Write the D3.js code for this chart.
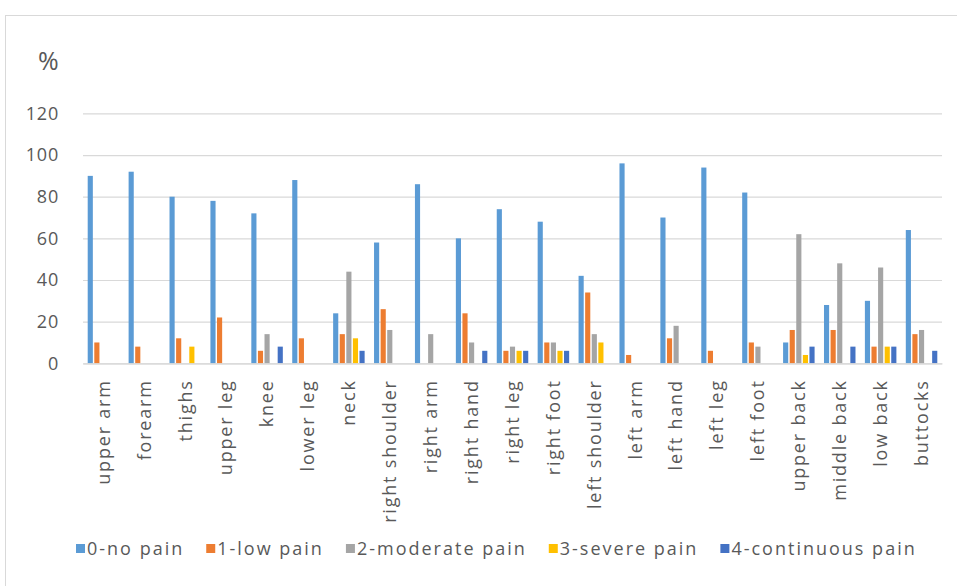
<!DOCTYPE html>
<html><head><meta charset="utf-8">
<script src="https://cdn.jsdelivr.net/npm/d3@7"></script>
<style>
html,body{margin:0;padding:0;background:#fff;}
svg{display:block;font-family:"Open Sans",sans-serif;}
</style></head>
<body><svg id="chart" width="957" height="586"></svg>
<script>
const categories = ["upper arm","forearm","thighs","upper leg","knee","lower leg","neck","right shoulder","right arm","right hand","right leg","right foot","left shoulder","left arm","left hand","left leg","left foot","upper back","middle back","low back","buttocks"];
const seriesNames = ["0-no pain","1-low pain","2-moderate pain","3-severe pain","4-continuous pain"];
const noPain     = [90,92,80,78,72,88,24,58,86,60,74,68,42,96,70,94,82,10,28,30,64];
const lowPain    = [10,8,12,22,6,12,14,26,0,24,6,10,34,4,12,6,10,16,16,8,14];
const moderate   = [0,0,0,0,14,0,44,16,14,10,8,10,14,0,18,0,8,62,48,46,16];
const severe     = [0,0,8,0,0,0,12,0,0,0,6,6,10,0,0,0,0,4,0,8,0];
const continuous = [0,0,0,0,8,0,6,0,0,6,6,6,0,0,0,0,0,8,8,8,6];
const yTicks = [0,20,40,60,80,100,120];
const colors = ["#5B9BD5","#ED7D31","#A5A5A5","#FFC000","#4472C4"];

const seriesValues = [noPain, lowPain, moderate, severe, continuous];
const svg = d3.select("#chart");

// frame
svg.append("rect").attr("x",5.5).attr("y",15.5).attr("width",960).attr("height",600)
  .attr("fill","none").attr("stroke","#d9d9d9");

const pLeft = 83, pRight = 942, pTop = 113.4, pBottom = 363.3;
const x0 = d3.scaleBand().domain(categories).range([pLeft,pRight]).paddingInner(0.23).paddingOuter(0.115);
const x1 = d3.scaleBand().domain(seriesNames).range([0,x0.bandwidth()]).paddingInner(0.22);
const y = d3.scaleLinear().domain([0,120]).range([pBottom,pTop]);

// gridlines
const yAxis = d3.axisLeft(y).tickValues(yTicks).tickSize(-(pRight-pLeft)).tickPadding(24);
const gy = svg.append("g").attr("transform",`translate(${pLeft},0)`).call(yAxis);
gy.select(".domain").remove();
gy.selectAll(".tick line").attr("stroke","#d9d9d9").attr("stroke-width",1.2);
gy.selectAll(".tick text").attr("fill","#595959").attr("font-size","18px")
  .attr("letter-spacing","0.8px").attr("font-family","Open Sans, sans-serif");

// bars
const groups = svg.append("g").selectAll("g").data(categories).join("g")
  .attr("transform",d=>`translate(${x0(d)},0)`);
groups.selectAll("rect").data((c,i)=>seriesNames.map((s,j)=>({s,j,v:seriesValues[j][i]})))
  .join("rect")
  .attr("x",d=>x1(d.s)).attr("width",x1.bandwidth())
  .attr("y",d=>y(d.v)).attr("height",d=>y(0)-y(d.v))
  .attr("fill",d=>colors[d.j]);

// x axis
const xAxis = d3.axisBottom(x0).tickSize(0).tickPadding(0);
const gx = svg.append("g").attr("transform",`translate(0,${pBottom})`).call(xAxis);
gx.select(".domain").attr("stroke","#d9d9d9").attr("stroke-width",1.2);
gx.selectAll(".tick text")
  .attr("transform","rotate(-90)")
  .attr("text-anchor","end").attr("x",-16).attr("y",0).attr("dy","0.35em")
  .attr("fill","#595959").attr("font-size","18px").attr("letter-spacing","1.8px")
  .attr("font-family","Open Sans, sans-serif");

// % label
svg.append("text").attr("x",38).attr("y",70).text("%")
  .attr("fill","#595959").attr("font-size","25px");

// legend
const legend = svg.append("g").attr("transform","translate(76,549)");
let lx = 0;
seriesNames.forEach((s,j)=>{
  const g = legend.append("g").attr("transform",`translate(${lx},0)`);
  g.append("rect").attr("x",0).attr("y",-5).attr("width",9).attr("height",9).attr("fill",colors[j]);
  const t = g.append("text").attr("x",11).attr("y",0).attr("dy","0.35em").text(s)
    .attr("fill","#595959").attr("font-size","18px").attr("letter-spacing","2px");
  lx += 11 + t.node().getComputedTextLength() + 22;
});
</script>
</body></html>
